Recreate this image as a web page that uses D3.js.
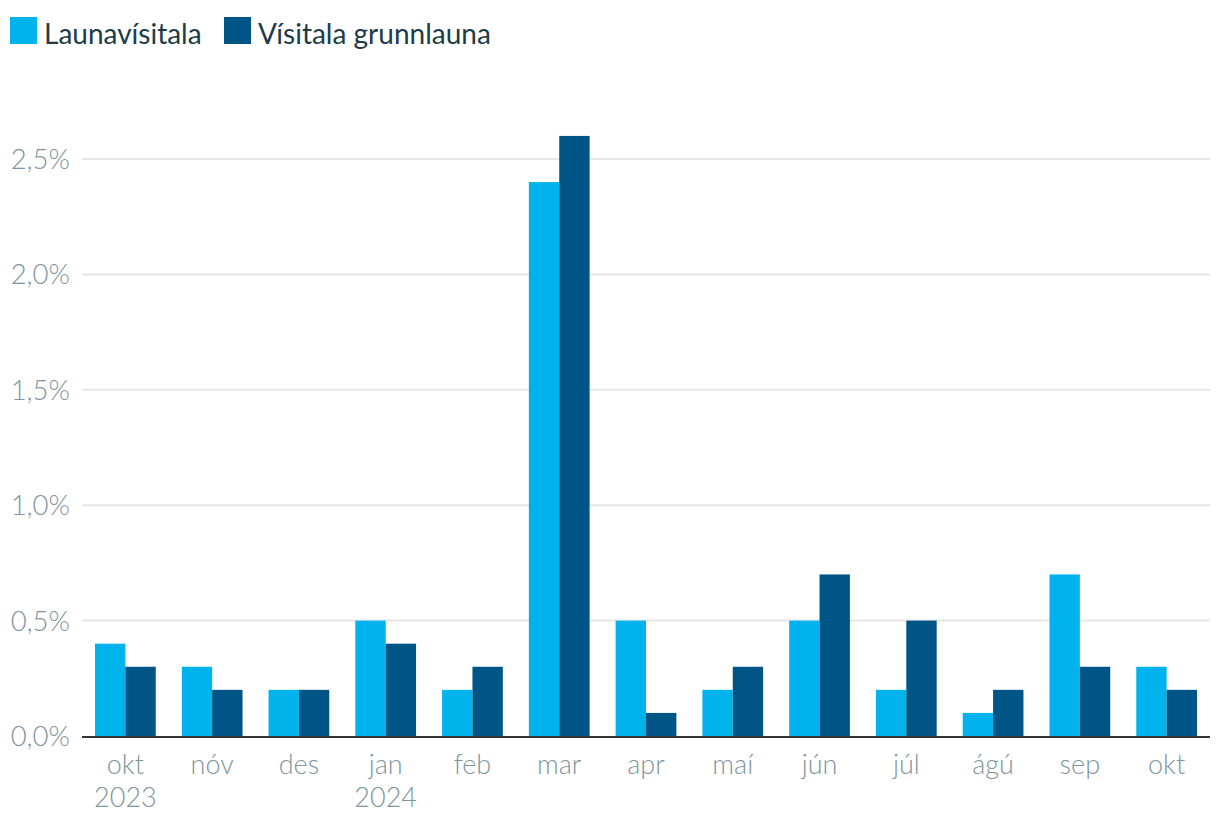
<!DOCTYPE html>
<html><head><meta charset="utf-8">
<script src="https://cdn.jsdelivr.net/npm/d3@7"></script>
<style>
body{margin:0;background:#fff;}
svg{font-family:Lato,"Open Sans",sans-serif;}
</style></head><body>
<svg id="c" width="1220" height="832"></svg>
<script>
const months = ["okt","nóv","des","jan","feb","mar","apr","maí","jún","júl","ágú","sep","okt"];
const years = ["2023","","","2024","","","","","","","","",""];
const seriesNames = ["Launavísitala","Vísitala grunnlauna"];
const launavisitala = [0.4,0.3,0.2,0.5,0.2,2.4,0.5,0.2,0.5,0.2,0.1,0.7,0.3];
const grunnlaun = [0.3,0.2,0.2,0.4,0.3,2.6,0.1,0.3,0.7,0.5,0.2,0.3,0.2];
const yTicks = [0,0.5,1.0,1.5,2.0,2.5];
const colors = ["#00b3ec","#005587"];

const svg = d3.select("#c");
const idx = months.map((d,i)=>i);
const x = d3.scaleBand().domain(idx).range([82,1210]).paddingInner(0.3).paddingOuter(0.15);
const y = d3.scaleLinear().domain([0,2.5]).range([736,159]);
const xs = d3.scaleBand().domain([0,1]).range([0,x.bandwidth()]);
const labelColor = "#80959d";

// grid
svg.append("g").selectAll("line").data(yTicks.filter(d=>d>0)).join("line")
  .attr("x1",82).attr("x2",1210).attr("y1",d=>y(d)).attr("y2",d=>y(d))
  .attr("stroke","#e6e6e6").attr("stroke-width",2);

// y labels
svg.append("g").selectAll("text").data(yTicks).join("text")
  .attr("x",70).attr("y",d=>y(d)+10).attr("text-anchor","end")
  .attr("font-size",27.5).attr("font-weight",300).attr("fill",labelColor)
  .text(d=>d.toFixed(1).replace(".",",")+"%");

// bars
const series = [launavisitala, grunnlaun];
series.forEach((vals,s)=>{
  svg.append("g").selectAll("rect").data(vals).join("rect")
    .attr("x",(d,i)=>x(i)+xs(s)).attr("width",xs.bandwidth())
    .attr("y",d=>y(d)).attr("height",d=>y(0)-y(d))
    .attr("fill",colors[s]);
});

// baseline
svg.append("line").attr("x1",82).attr("x2",1210).attr("y1",y(0)+1).attr("y2",y(0)+1)
  .attr("stroke","#333").attr("stroke-width",2);

// x labels
const xl = svg.append("g");
xl.selectAll("text.m").data(months).join("text").attr("class","m")
  .attr("x",(d,i)=>x(i)+x.bandwidth()/2).attr("y",774).attr("text-anchor","middle")
  .attr("font-size",27).attr("font-weight",300).attr("fill",labelColor).text(d=>d);
xl.selectAll("text.y").data(years).join("text").attr("class","y")
  .attr("x",(d,i)=>x(i)+x.bandwidth()/2).attr("y",807).attr("text-anchor","middle")
  .attr("font-size",27).attr("font-weight",300).attr("fill",labelColor).text(d=>d);

// legend
const lg = svg.append("g");
const lx = [10,224];
seriesNames.forEach((n,i)=>{
  lg.append("rect").attr("x",lx[i]).attr("y",17).attr("width",27).attr("height",27).attr("fill",colors[i]);
  lg.append("text").attr("x",lx[i]+34).attr("y",44).attr("font-size",28).attr("fill","#1d3c47").text(n);
});
</script>
</body></html>
